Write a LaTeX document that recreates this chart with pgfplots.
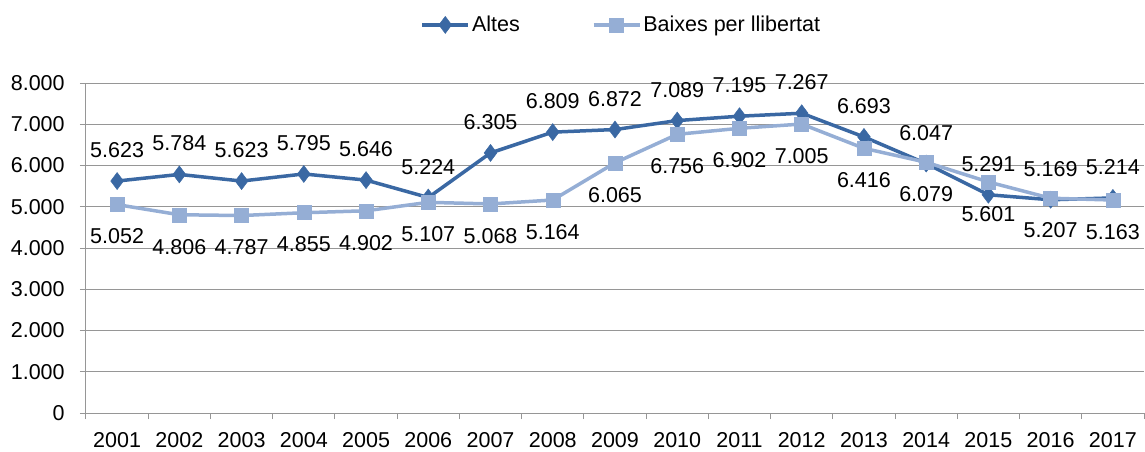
\documentclass[border=0pt]{standalone}
\usepackage{pgfplots}
\pgfplotsset{compat=1.18}
\usepackage{fontspec}
\setmainfont{Liberation Sans}
\definecolor{altes}{RGB}{58,104,163}
\definecolor{baixes}{RGB}{149,174,213}
\definecolor{gridc}{RGB}{150,150,150}
\begin{document}
\fontsize{21.5}{25}\selectfont
\begin{tikzpicture}[x=1pt,y=1pt]
\path[use as bounding box] (-86,-39) rectangle (1059,413);
\begin{axis}[
  at={(0,0)}, anchor=south west,
  scale only axis, width=1058pt, height=330pt,
  xmin=-0.5, xmax=16.5, ymin=0, ymax=8000,
  axis lines*=left,
  axis line style={draw=gridc, line width=1pt},
  ytick={0,1000,...,8000},
  ymajorgrids, grid style={draw=gridc, line width=1pt},
  xtick={0,...,16},
  xticklabels={2001,2002,2003,2004,2005,2006,2007,2008,2009,2010,2011,2012,2013,2014,2015,2016,2017},
  minor xtick={-0.5,0.5,...,16.5},
  tick align=outside,
  major tick length=6pt, minor tick length=6pt,
  x tick style={draw=none},
  minor x tick style={draw=gridc, line width=1pt},
  y tick style={draw=gridc, line width=1pt},
  xticklabel style={yshift=-6pt},
  yticklabel style={xshift=-8pt},
  scaled y ticks=false,
  /pgf/number format/.cd, fixed, precision=0, 1000 sep={.}, assume math mode=true,
  /pgfplots/.cd,
  legend style={at={(0.506,1.176)}, anchor=center, draw=none, fill=none,
     legend columns=2, /tikz/every even column/.append style={column sep=70pt}},
  legend image code/.code={\draw[mark repeat=2,mark phase=2,#1] plot coordinates {(0pt,0pt) (23pt,0pt) (46pt,0pt)};},
  clip=false,
]
\addplot[color=altes, line width=3.5pt, mark=diamond*, mark size=8.5pt,
  mark options={line width=0.5pt, fill=altes, draw=altes},
  nodes near coords,
  nodes near coords style={anchor=south, inner sep=2pt, yshift=21pt, text=black}]
coordinates {
(0,5623) (1,5784) (2,5623) (3,5795) (4,5646) (5,5224) (6,6305) (7,6809) (8,6872)
(9,7089) (10,7195) (11,7267) (12,6693) (13,6047) (14,5291) (15,5169) (16,5214)};
\addlegendentry{Altes}
\addplot[color=baixes, line width=3.5pt, mark=square*, mark size=7pt,
  mark options={line width=0.5pt, fill=baixes, draw=baixes},
  nodes near coords,
  nodes near coords style={anchor=north, inner sep=2pt, yshift=-22pt, text=black}]
coordinates {
(0,5052) (1,4806) (2,4787) (3,4855) (4,4902) (5,5107) (6,5068) (7,5164) (8,6065)
(9,6756) (10,6902) (11,7005) (12,6416) (13,6079) (14,5601) (15,5207) (16,5163)};
\addlegendentry{Baixes per llibertat}
\end{axis}
\end{tikzpicture}
\end{document}
